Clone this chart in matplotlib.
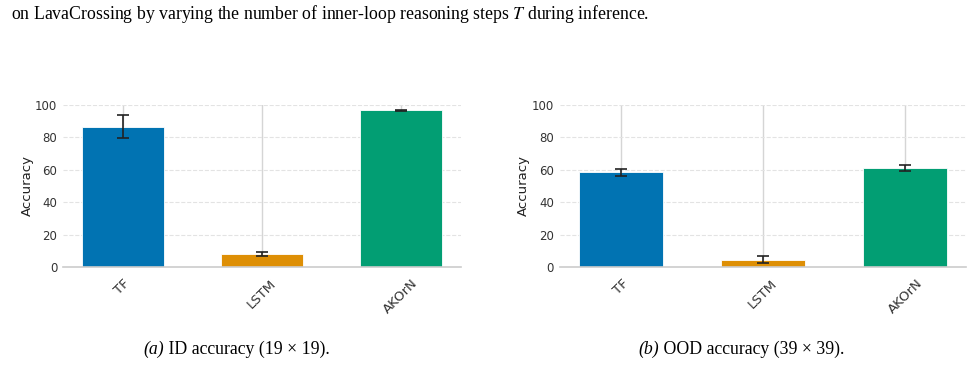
import matplotlib.pyplot as plt
import numpy as np

plt.rcParams['mathtext.fontset'] = 'stix'

# Data
models = ['TF', 'LSTM', 'AKOrN']
id_acc = [86.5, 8.0, 96.5]
id_err = [7.2, 1.0, 0.5]
ood_acc = [58.5, 4.5, 61.0]
ood_err = [2.2, 2.2, 1.7]
colors = ['#0173b2', '#de8f05', '#029e73']

fig = plt.figure(figsize=(9.8, 3.73), dpi=100)

fig.text(0.011, 0.962, 'on LavaCrossing by varying the number of inner-loop reasoning steps $T$ during inference.',
         fontsize=12.8, family='Liberation Serif', va='center', ha='left')

panels = [
    ([0.064, 0.284, 0.406, 0.435], id_acc, id_err, '(a)', ' ID accuracy (19 \u00d7 19).', 143 / 980),
    ([0.571, 0.284, 0.415, 0.435], ood_acc, ood_err, '(b)', ' OOD accuracy (39 \u00d7 39).', 638 / 980),
]

x = np.arange(len(models))
for rect, vals, errs, tag, cap, cx in panels:
    ax = fig.add_axes(rect)
    ax.set_axisbelow(True)
    ax.bar(x, vals, 0.59, color=colors, edgecolor='white', linewidth=0.6, zorder=2)
    ax.errorbar(x, vals, yerr=errs, fmt='none', ecolor='#222222', elinewidth=1.2,
                capsize=4, capthick=1.2, zorder=3)
    ax.set_xlim(-0.43, 2.43)
    ax.set_ylim(0, 100)
    ax.set_yticks([0, 20, 40, 60, 80, 100])
    ax.set_xticks(x)
    ax.set_xticklabels(models, rotation=45, ha='center')
    ax.yaxis.grid(True, linestyle='--', color='#e3e3e3', linewidth=0.8)
    ax.xaxis.grid(True, linestyle='-', color='#d5d5d5', linewidth=1.0)
    for s in ['top', 'right', 'left']:
        ax.spines[s].set_visible(False)
    ax.spines['bottom'].set_color('#cccccc')
    ax.spines['bottom'].set_linewidth(1.2)
    ax.tick_params(axis='y', length=0, labelsize=8.5, labelcolor='#333333', pad=4)
    ax.tick_params(axis='x', length=0, labelsize=9.5, labelcolor='#333333', pad=7)
    ax.set_ylabel('Accuracy', fontsize=9.5, color='#222222', labelpad=1)

    # caption: italic tag followed by upright text
    t = fig.text(cx, 0.064, tag, fontsize=12.8, family='Liberation Serif', style='italic',
                 ha='left', va='center')
    fig.add_artist(plt.Annotation(cap, xy=(1, 0.5), xycoords=t, va='center', ha='left',
                                  fontsize=12.8, family='Liberation Serif'))

fig.savefig('out.png', dpi=100)
